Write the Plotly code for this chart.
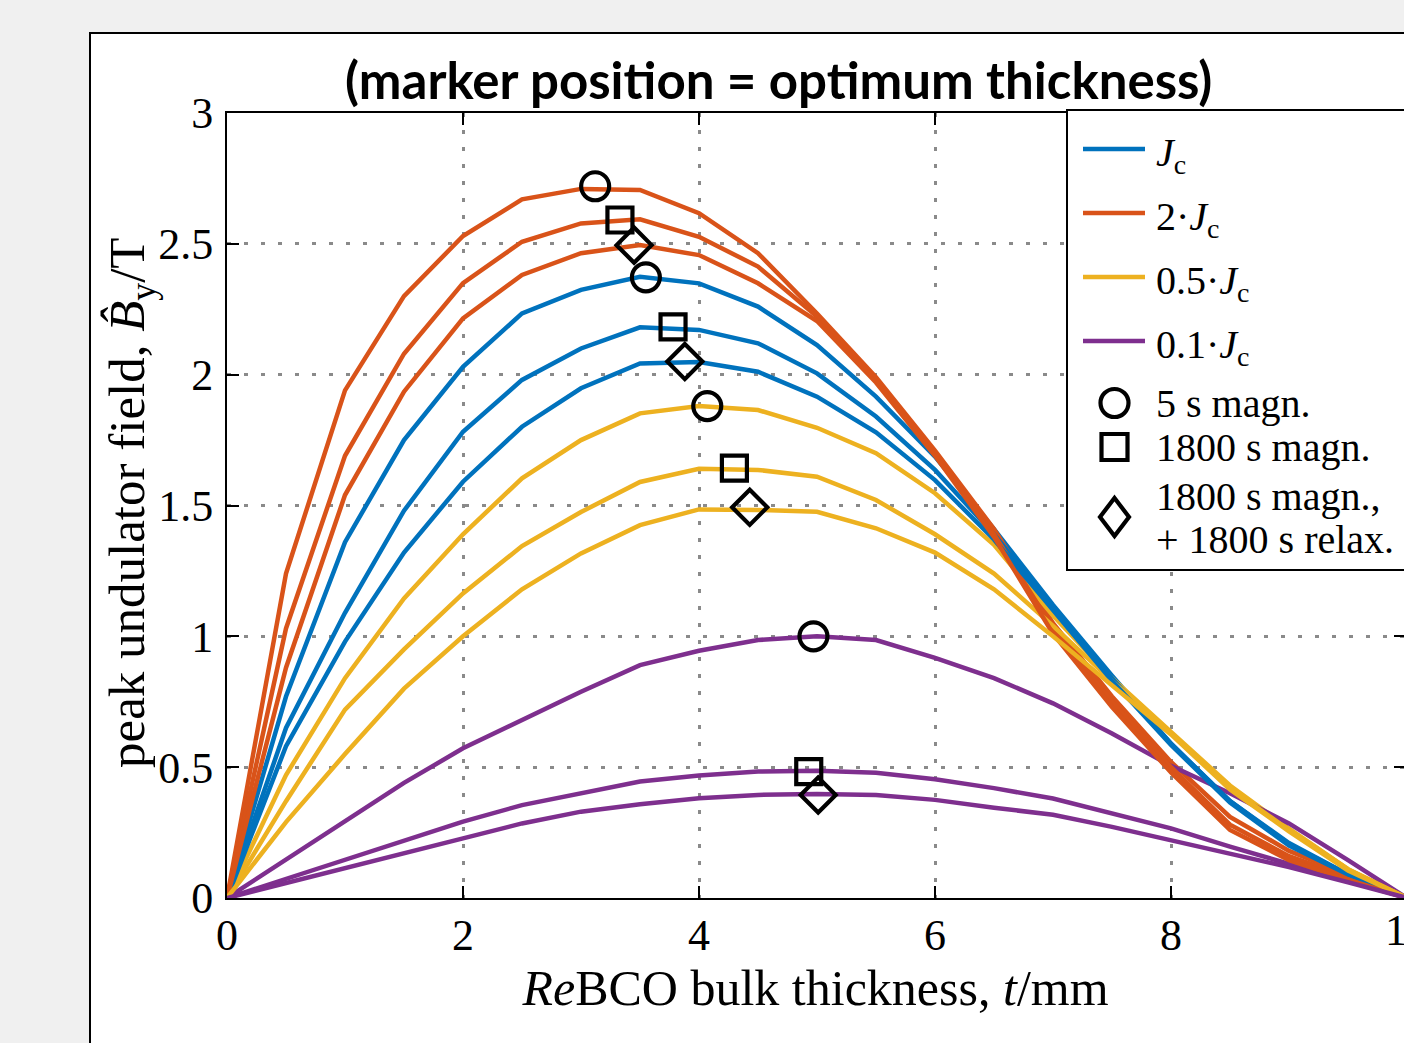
import plotly.graph_objects as go

# ---------------- data ----------------
thickness_mm = [0, 0.5, 1, 1.5, 2, 2.5, 3, 3.5, 4, 4.5, 5, 5.5, 6, 6.5, 7, 7.5, 8, 8.5, 9, 9.5, 10]

B_Jc_5s      = [0, 0.77, 1.36, 1.75, 2.03, 2.234, 2.324, 2.374, 2.349, 2.26, 2.113, 1.916, 1.687, 1.41, 1.12, 0.85, 0.59, 0.37, 0.21, 0.09, 0]
B_Jc_1800s   = [0, 0.65, 1.09, 1.48, 1.782, 1.98, 2.10, 2.181, 2.171, 2.12, 2.005, 1.84, 1.636, 1.39, 1.11, 0.84, 0.59, 0.37, 0.205, 0.09, 0]
B_Jc_relax   = [0, 0.58, 0.98, 1.32, 1.591, 1.801, 1.948, 2.043, 2.048, 2.011, 1.916, 1.78, 1.597, 1.37, 1.10, 0.83, 0.585, 0.365, 0.20, 0.09, 0]

B_2Jc_5s     = [0, 1.24, 1.94, 2.30, 2.53, 2.67, 2.71, 2.706, 2.617, 2.464, 2.234, 1.99, 1.71, 1.41, 1.05, 0.77, 0.52, 0.31, 0.18, 0.09, 0]
B_2Jc_1800s  = [0, 1.03, 1.69, 2.08, 2.35, 2.508, 2.578, 2.594, 2.527, 2.413, 2.222, 1.98, 1.70, 1.39, 1.03, 0.75, 0.50, 0.28, 0.16, 0.08, 0]
B_2Jc_relax  = [0, 0.88, 1.54, 1.935, 2.215, 2.381, 2.464, 2.495, 2.457, 2.349, 2.205, 1.97, 1.69, 1.38, 1.01, 0.73, 0.48, 0.26, 0.145, 0.07, 0]

B_05Jc_5s    = [0, 0.47, 0.84, 1.145, 1.39, 1.604, 1.75, 1.852, 1.88, 1.865, 1.797, 1.70, 1.547, 1.35, 1.08, 0.84, 0.635, 0.43, 0.265, 0.11, 0]
B_05Jc_1800s = [0, 0.37, 0.72, 0.95, 1.164, 1.345, 1.475, 1.59, 1.64, 1.636, 1.61, 1.521, 1.39, 1.24, 1.04, 0.83, 0.63, 0.42, 0.26, 0.11, 0]
B_05Jc_relax = [0, 0.29, 0.55, 0.80, 1.00, 1.18, 1.317, 1.425, 1.485, 1.483, 1.476, 1.413, 1.32, 1.18, 1.00, 0.815, 0.625, 0.415, 0.255, 0.105, 0]

B_01Jc_5s    = [0, 0.145, 0.29, 0.44, 0.572, 0.68, 0.788, 0.89, 0.945, 0.986, 1.0, 0.986, 0.918, 0.84, 0.744, 0.629, 0.505, 0.40, 0.285, 0.145, 0]
B_01Jc_1800s = [0, 0.073, 0.145, 0.215, 0.292, 0.355, 0.40, 0.445, 0.468, 0.483, 0.486, 0.479, 0.454, 0.42, 0.38, 0.325, 0.266, 0.196, 0.13, 0.066, 0]
B_01Jc_relax = [0, 0.058, 0.115, 0.172, 0.228, 0.285, 0.33, 0.358, 0.381, 0.394, 0.397, 0.394, 0.375, 0.345, 0.318, 0.272, 0.222, 0.17, 0.118, 0.06, 0]

# optimum thickness markers, order: Jc, 2Jc, 0.5Jc, 0.1Jc
opt_t_5s      = [3.55, 3.12, 4.07, 4.97]
opt_B_5s      = [2.372, 2.72, 1.88, 1.0]
opt_t_1800s   = [3.78, 3.33, 4.30, 4.93]
opt_B_1800s   = [2.183, 2.591, 1.643, 0.483]
opt_t_relax   = [3.88, 3.45, 4.43, 5.01]
opt_B_relax   = [2.05, 2.495, 1.493, 0.394]

case_labels   = ["<i>J</i><sub>c</sub>", "2·<i>J</i><sub>c</sub>", "0.5·<i>J</i><sub>c</sub>", "0.1·<i>J</i><sub>c</sub>"]
mode_labels   = ["5 s magn.", "1800 s magn.", "1800 s magn.,", "+ 1800 s relax."]

x_tickvals = [0, 2, 4, 6, 8]
x_ticktext = ["0", "2", "4", "6", "8"]
y_tickvals = [0, 0.5, 1, 1.5, 2, 2.5, 3]
y_ticktext = ["0", "0.5", "1", "1.5", "2", "2.5", "3"]

x_title = "<i>Re</i>BCO bulk thickness, <i>t</i>/mm"
y_title = "peak undulator field, <i>B\u0302</i><sub>y</sub>/T"
plot_title = "<b>(marker position = optimum thickness)</b>"

# ---------------- styling ----------------
W, H = 1404, 1043
def fx(px):
    return px / W
def fy(py):
    return 1 - py / H

case_colors = ["#0072BD", "#D95319", "#EDB120", "#7E2F8E"]
SERIF = "Liberation Serif"

curves_by_mode = [
    [B_Jc_5s, B_2Jc_5s, B_05Jc_5s, B_01Jc_5s],
    [B_Jc_1800s, B_2Jc_1800s, B_05Jc_1800s, B_01Jc_1800s],
    [B_Jc_relax, B_2Jc_relax, B_05Jc_relax, B_01Jc_relax],
]
mode_names = ["5 s magn.", "1800 s magn.", "1800 s magn. + 1800 s relax."]

fig = go.Figure()
for m, curves in enumerate(curves_by_mode):
    for c, yv in enumerate(curves):
        fig.add_trace(go.Scatter(
            x=thickness_mm, y=yv, mode="lines",
            line=dict(color=case_colors[c], width=4.5),
            name=f"{case_labels[c]} ({mode_names[m]})",
            showlegend=False, hoverinfo="x+y",
        ))

marker_sets = [
    (opt_t_5s, opt_B_5s, "circle-open", 28, mode_names[0]),
    (opt_t_1800s, opt_B_1800s, "square-open", 25, mode_names[1]),
    (opt_t_relax, opt_B_relax, "diamond-open", 27, mode_names[2]),
]
for xs, ys, sym, sz, nm in marker_sets:
    fig.add_trace(go.Scatter(
        x=xs, y=ys, mode="markers", name=nm, showlegend=False,
        marker=dict(symbol=sym, size=sz, color="black", line=dict(color="black", width=4.2)),
    ))

# right-hand mirrored ticks (no line)
fig.add_trace(go.Scatter(x=[None], y=[None], yaxis="y2", showlegend=False, hoverinfo="skip"))

XR = 1177 / 118.0  # axis range so that 118 px == 1 mm (x = 10 falls just outside the page)

fig.update_layout(
    width=W, height=H, autosize=False,
    margin=dict(l=0, r=0, t=0, b=0, pad=0),
    paper_bgcolor="#f0f0f0", plot_bgcolor="white",
    showlegend=False,
    font=dict(family=SERIF, color="black"),
    xaxis=dict(
        domain=[fx(227), 1], range=[0, XR], autorange=False,
        tickvals=x_tickvals, ticktext=x_ticktext,
        ticks="inside", ticklen=12, tickwidth=2, tickcolor="black",
        showline=True, linecolor="black", linewidth=2, mirror="ticks",
        showgrid=True, gridcolor="#8a8a8a", gridwidth=2.5, griddash="4px,13px",
        zeroline=False, automargin=False, ticklabelstandoff=-3,
        tickfont=dict(family=SERIF, size=44, color="black"),
        title=dict(text=x_title, font=dict(family=SERIF, size=50, color="black"), standoff=0),
    ),
    yaxis=dict(
        domain=[fy(898), fy(113)], range=[0, 3], autorange=False,
        tickvals=y_tickvals, ticktext=y_ticktext,
        ticks="inside", ticklen=12, tickwidth=2, tickcolor="black",
        showline=True, linecolor="black", linewidth=2, mirror=False,
        showgrid=True, gridcolor="#8a8a8a", gridwidth=2.5, griddash="4px,13px",
        zeroline=False, automargin=False, ticklabelstandoff=3,
        tickfont=dict(family=SERIF, size=44, color="black"),
    ),
    yaxis2=dict(
        overlaying="y", side="right", anchor="x", range=[0, 3], autorange=False,
        tickvals=y_tickvals, ticks="inside", ticklen=10, tickwidth=2, tickcolor="black",
        showticklabels=False, showline=False, showgrid=False, zeroline=False,
    ),
)

shapes = []
# outer white frame
shapes.append(dict(type="rect", xref="paper", yref="paper", layer="below",
                   x0=fx(90), x1=fx(1430), y0=fy(33), y1=fy(1070),
                   fillcolor="white", line=dict(color="black", width=2)))
# legend box
shapes.append(dict(type="rect", xref="paper", yref="paper", layer="above",
                   x0=fx(1067), x1=fx(1430), y0=fy(110), y1=fy(570),
                   fillcolor="white", line=dict(color="black", width=2)))
leg_line_y = [149, 213, 277, 341]
for c, ly in enumerate(leg_line_y):
    shapes.append(dict(type="line", xref="paper", yref="paper", layer="above",
                       x0=fx(1083), x1=fx(1145), y0=fy(ly), y1=fy(ly),
                       line=dict(color=case_colors[c], width=4.5)))
# legend marker glyphs
cx = 1114.5
shapes.append(dict(type="circle", xref="paper", yref="paper", layer="above",
                   x0=fx(cx - 14), x1=fx(cx + 14), y0=fy(403 - 14), y1=fy(403 + 14),
                   line=dict(color="black", width=4.2)))
shapes.append(dict(type="rect", xref="paper", yref="paper", layer="above",
                   x0=fx(cx - 13), x1=fx(cx + 13), y0=fy(447 - 13), y1=fy(447 + 13),
                   line=dict(color="black", width=4.2)))
dy0 = 517
shapes.append(dict(type="path", xref="paper", yref="paper", layer="above",
                   path=(f"M {fx(cx)},{fy(dy0 - 19)} L {fx(cx + 14.5)},{fy(dy0)} "
                         f"L {fx(cx)},{fy(dy0 + 19)} L {fx(cx - 14.5)},{fy(dy0)} Z"),
                   line=dict(color="black", width=4.2)))
fig.update_layout(shapes=shapes)

ann = []
ann.append(dict(xref="paper", yref="paper", x=fx(779), y=fy(79), xanchor="center", yanchor="middle",
                text=plot_title, showarrow=False,
                font=dict(family="Lato", size=51, color="black")))
# y-axis title
ann.append(dict(xref="paper", yref="paper", x=fx(131), y=fy(503), xanchor="center", yanchor="middle",
                text=y_title, textangle=-90, showarrow=False,
                font=dict(family=SERIF, size=51, color="black")))
# last x tick label (x = 10 lies just beyond the page edge)
ann.append(dict(xref="paper", yref="paper", x=fx(1407), y=fy(904), xanchor="center", yanchor="top",
                text="10", showarrow=False, font=dict(family=SERIF, size=44, color="black")))
leg_text_y = [155, 219, 283, 347]
for c, ty in enumerate(leg_text_y):
    ann.append(dict(xref="paper", yref="paper", x=fx(1154), y=fy(ty), xanchor="left", yanchor="middle",
                    text=case_labels[c], showarrow=False, font=dict(family=SERIF, size=40, color="black")))
for lbl, ty in zip(mode_labels, [403, 447, 496, 539]):
    ann.append(dict(xref="paper", yref="paper", x=fx(1154), y=fy(ty), xanchor="left", yanchor="middle",
                    text=lbl, showarrow=False, font=dict(family=SERIF, size=40, color="black")))
fig.update_layout(annotations=ann)

fig.write_html("out.html")
